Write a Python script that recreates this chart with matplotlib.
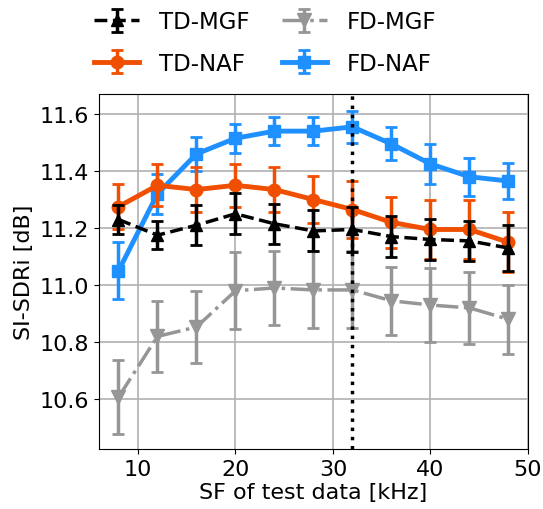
import numpy as np
import matplotlib
matplotlib.use('Agg')
import matplotlib.pyplot as plt

sf = [8, 12, 16, 20, 24, 28, 32, 36, 40, 44, 48]

td_mgf = [11.23, 11.175, 11.21, 11.25, 11.215, 11.19, 11.195, 11.17, 11.16, 11.155, 11.13]
td_mgf_err = [0.05, 0.05, 0.07, 0.072, 0.07, 0.072, 0.078, 0.072, 0.072, 0.07, 0.08]

td_naf = [11.275, 11.35, 11.335, 11.35, 11.335, 11.30, 11.265, 11.22, 11.195, 11.195, 11.15]
td_naf_err = [0.08, 0.073, 0.08, 0.075, 0.08, 0.083, 0.1, 0.09, 0.105, 0.105, 0.105]

fd_mgf = [10.607, 10.82, 10.853, 10.98, 10.99, 10.983, 10.983, 10.945, 10.93, 10.92, 10.88]
fd_mgf_err = [0.13, 0.125, 0.125, 0.135, 0.13, 0.135, 0.135, 0.12, 0.13, 0.125, 0.12]

fd_naf = [11.05, 11.32, 11.46, 11.515, 11.54, 11.54, 11.555, 11.495, 11.425, 11.38, 11.365]
fd_naf_err = [0.1, 0.07, 0.06, 0.05, 0.05, 0.05, 0.055, 0.058, 0.07, 0.067, 0.063]

plt.rcParams['font.size'] = 16

fig = plt.figure(figsize=(5.43, 5.10), dpi=100)
ax = fig.add_axes([0.1823, 0.1176, 0.790, 0.696])

h_fm = ax.errorbar(sf, fd_mgf, yerr=fd_mgf_err, color='#969696', ls='-.', lw=2.5,
                   marker='v', ms=10, elinewidth=2.5, capsize=4, capthick=2, zorder=2,
                   label='FD-MGF')
h_fn = ax.errorbar(sf, fd_naf, yerr=fd_naf_err, color='dodgerblue', ls='-', lw=3.5,
                   marker='s', ms=9, elinewidth=2.5, capsize=4, capthick=2, zorder=3,
                   label='FD-NAF')
h_tn = ax.errorbar(sf, td_naf, yerr=td_naf_err, color='#f04e00', ls='-', lw=3.5,
                   marker='o', ms=9, elinewidth=2.5, capsize=4, capthick=2, zorder=4,
                   label='TD-NAF')
h_tm = ax.errorbar(sf, td_mgf, yerr=td_mgf_err, color='black', ls='--', lw=2.5,
                   marker='^', ms=9, elinewidth=2.5, capsize=4, capthick=2, zorder=5,
                   label='TD-MGF')
ax.axvline(32, color='black', ls=':', lw=2.5, zorder=6)

ax.set_xlim(6, 50)
ax.set_ylim(10.425, 11.67)
ax.set_xticks([10, 20, 30, 40, 50])
ax.set_yticks([10.6, 10.8, 11.0, 11.2, 11.4, 11.6])
ax.grid(True, color='#b0b0b0', lw=1.2)
ax.set_axisbelow(True)
ax.set_xlabel('SF of test data [kHz]', labelpad=2)
ax.set_ylabel('SI-SDRi [dB]', labelpad=4)

fig.legend(handles=[h_tm, h_tn, h_fm, h_fn], loc='upper center', ncol=2,
           bbox_to_anchor=(0.488, 1.018), frameon=False, fontsize=16.5,
           labelspacing=0.8, handlelength=2.0, handletextpad=0.85,
           columnspacing=1.4)

fig.savefig('out.png', dpi=100)
